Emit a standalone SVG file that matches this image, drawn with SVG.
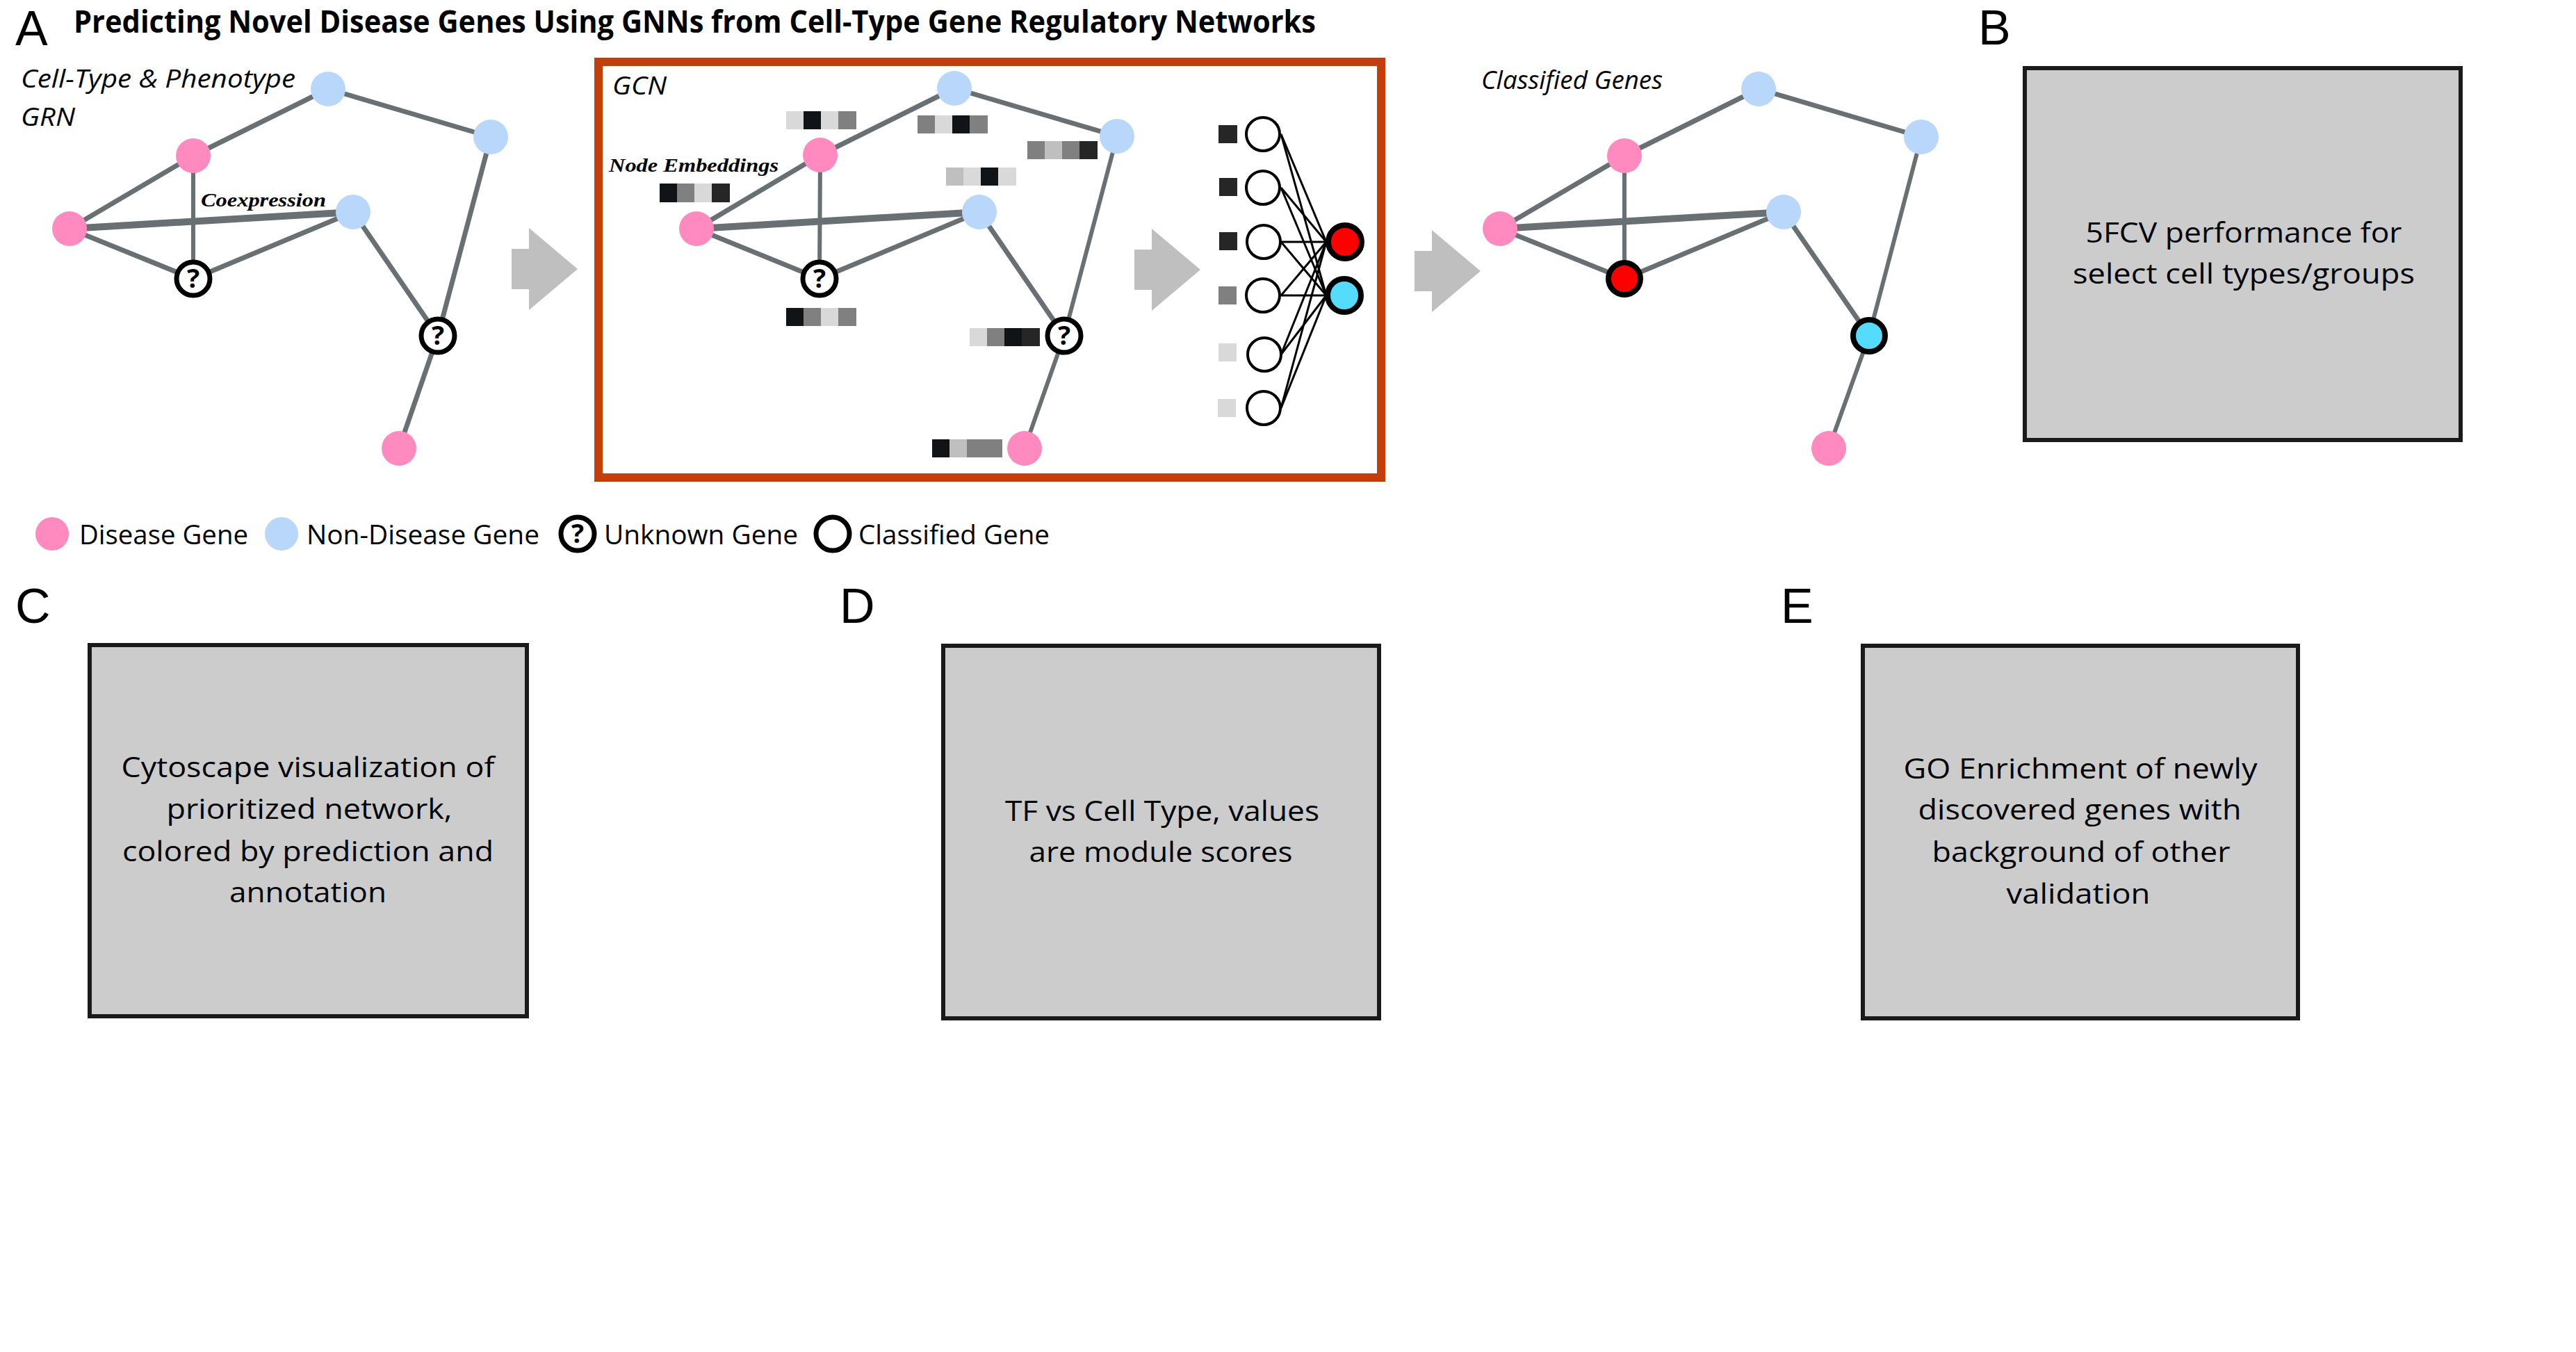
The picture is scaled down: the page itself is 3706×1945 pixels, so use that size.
<svg xmlns="http://www.w3.org/2000/svg" xmlns:xlink="http://www.w3.org/1999/xlink" width="3706" height="1945" viewBox="0 0 3706 1945">
<style>
.bg{fill:#ffffff}
.lbl{font-family:"Liberation Sans",Arial,sans-serif;font-size:70px;fill:#000}
.title{font-family:"Open Sans","Noto Sans",sans-serif;font-size:44px;font-weight:700;fill:#000}
.it{font-family:"Open Sans","Noto Sans",sans-serif;font-style:italic;font-size:36px;fill:#000}
.ser{font-family:"Liberation Serif","DejaVu Serif",serif;font-style:italic;font-weight:700;fill:#000}
.leg{font-family:"Open Sans","Noto Sans",sans-serif;font-size:39px;fill:#000}
.box{fill:#cccccc;stroke:#1a1a1a;stroke-width:6}
.bt{font-family:"Open Sans","Noto Sans",sans-serif;font-size:40px;fill:#000;text-anchor:middle}
.e{stroke:#687073;stroke-width:7;stroke-linecap:butt;fill:none}
.e.thick{stroke-width:10}
.e.thin{stroke-width:6}
.pink{fill:#ff8abf}
.blue{fill:#b8d7fb}
.unk{fill:#ffffff;stroke:#000;stroke-width:7}
.q{font-family:"Open Sans","Noto Sans",sans-serif;font-weight:700;font-size:38px;text-anchor:middle;fill:#000}
.arrow{fill:#bfbfbf}
.nn{stroke:#000;stroke-width:3}
.inp{fill:#fff;stroke:#000;stroke-width:4}
.out{stroke:#000;stroke-width:8}
.c0{fill:#111416}.c1{fill:#262626}.c2{fill:#808080}.c3{fill:#bfbfbf}.c4{fill:#d9d9d9}
</style>
<defs>
<path id="blockArrow" d="M0,0 H25 V-30 L95,29 L25,88 V58 H0 Z"/>
</defs>
<rect class="bg" x="0" y="0" width="3706" height="1945"/>

<!-- Panel labels and title -->
<text class="lbl" x="22" y="65">A</text>
<text class="title" x="106" y="47" textLength="1787" lengthAdjust="spacingAndGlyphs">Predicting Novel Disease Genes Using GNNs from Cell-Type Gene Regulatory Networks</text>
<text class="lbl" x="2846" y="64">B</text>
<text class="lbl" x="22" y="896">C</text>
<text class="lbl" x="1208" y="896">D</text>
<text class="lbl" x="2562" y="896">E</text>

<!-- Sub-captions -->
<text class="it" x="30" y="126" textLength="395" lengthAdjust="spacingAndGlyphs">Cell-Type &amp; Phenotype</text>
<text class="it" x="30" y="181" textLength="78" lengthAdjust="spacingAndGlyphs">GRN</text>
<text class="ser" x="289" y="297" font-size="28" textLength="180" lengthAdjust="spacingAndGlyphs">Coexpression</text>
<text class="it" x="2131" y="128" textLength="261" lengthAdjust="spacingAndGlyphs">Classified Genes</text>

<!-- GCN frame -->
<g id="gcn-frame">
<rect x="861" y="89" width="1126" height="598" fill="none" stroke="#c43e0b" stroke-width="12"/>
<text class="it" x="881" y="136" textLength="78" lengthAdjust="spacingAndGlyphs">GCN</text>
<text class="ser" x="876" y="247" font-size="28" textLength="244" lengthAdjust="spacingAndGlyphs">Node Embeddings</text>
</g>

<!-- Arrows -->
<g id="arrows">
<use xlink:href="#blockArrow" class="arrow" transform="translate(736,358)"/>
<use xlink:href="#blockArrow" class="arrow" transform="translate(1632,359)"/>
<use xlink:href="#blockArrow" class="arrow" transform="translate(2035,361)"/>
</g>

<!-- Connectors -->
<g id="connectors">
<!-- left GRN -->
<line class="e" x1="472" y1="128" x2="278" y2="224"/>
<line class="e" x1="472" y1="128" x2="706" y2="197"/>
<line class="e" x1="706" y1="197" x2="630" y2="483"/>
<line class="e" x1="278" y1="224" x2="100" y2="329"/>
<line class="e thin" x1="278" y1="224" x2="278" y2="401"/>
<line class="e thick" x1="100" y1="329" x2="508" y2="305"/>
<line class="e" x1="100" y1="329" x2="278" y2="401"/>
<line class="e" x1="508" y1="305" x2="278" y2="401"/>
<line class="e" x1="508" y1="305" x2="630" y2="483"/>
<line class="e" x1="630" y1="483" x2="574" y2="645"/>
<!-- GCN graph -->
<line class="e" x1="1373" y1="127" x2="1180" y2="223"/>
<line class="e" x1="1373" y1="127" x2="1607" y2="196"/>
<line class="e thin" x1="1607" y1="196" x2="1531" y2="483"/>
<line class="e" x1="1180" y1="223" x2="1002" y2="329"/>
<line class="e thin" x1="1180" y1="223" x2="1179" y2="401"/>
<line class="e thick" x1="1002" y1="329" x2="1409" y2="305"/>
<line class="e" x1="1002" y1="329" x2="1179" y2="401"/>
<line class="e" x1="1409" y1="305" x2="1179" y2="401"/>
<line class="e" x1="1409" y1="305" x2="1531" y2="483"/>
<line class="e thin" x1="1531" y1="483" x2="1474" y2="645"/>
<!-- Classified graph -->
<line class="e" x1="2530" y1="128" x2="2337" y2="224"/>
<line class="e" x1="2530" y1="128" x2="2764" y2="197"/>
<line class="e thin" x1="2764" y1="197" x2="2689" y2="483"/>
<line class="e" x1="2337" y1="224" x2="2158" y2="329"/>
<line class="e thin" x1="2337" y1="224" x2="2337" y2="401"/>
<line class="e thick" x1="2158" y1="329" x2="2566" y2="305"/>
<line class="e" x1="2158" y1="329" x2="2337" y2="401"/>
<line class="e" x1="2566" y1="305" x2="2337" y2="401"/>
<line class="e" x1="2566" y1="305" x2="2689" y2="483"/>
<line class="e thin" x1="2689" y1="483" x2="2631" y2="645"/>
<!-- NN connections -->
<g class="nn">
<line x1="1843" y1="193" x2="1908" y2="348"/><line x1="1843" y1="193" x2="1908" y2="425"/>
<line x1="1843" y1="270" x2="1908" y2="348"/><line x1="1843" y1="270" x2="1908" y2="425"/>
<line x1="1843" y1="348" x2="1908" y2="348"/><line x1="1843" y1="348" x2="1908" y2="425"/>
<line x1="1843" y1="425" x2="1908" y2="348"/><line x1="1843" y1="425" x2="1908" y2="425"/>
<line x1="1843" y1="510" x2="1908" y2="348"/><line x1="1843" y1="510" x2="1908" y2="425"/>
<line x1="1843" y1="587" x2="1908" y2="348"/><line x1="1843" y1="587" x2="1908" y2="425"/>
</g>
</g>

<!-- Left GRN nodes -->
<g id="grn-n1"><circle class="blue" cx="472" cy="128" r="25"/></g>
<g id="grn-n2"><circle class="blue" cx="706" cy="197" r="25"/></g>
<g id="grn-n3"><circle class="pink" cx="278" cy="224" r="25"/></g>
<g id="grn-n4"><circle class="pink" cx="100" cy="329" r="25"/></g>
<g id="grn-n5"><circle class="blue" cx="508" cy="305" r="25"/></g>
<g id="grn-n6"><circle class="unk" cx="278" cy="401" r="24"/><text class="q" x="278" y="414">?</text></g>
<g id="grn-n7"><circle class="unk" cx="630" cy="483" r="24"/><text class="q" x="630" y="496">?</text></g>
<g id="grn-n8"><circle class="pink" cx="574" cy="645" r="25"/></g>

<!-- GCN nodes -->
<g id="gcn-n1"><circle class="blue" cx="1373" cy="127" r="25"/></g>
<g id="gcn-n2"><circle class="blue" cx="1607" cy="196" r="25"/></g>
<g id="gcn-n3"><circle class="pink" cx="1180" cy="223" r="25"/></g>
<g id="gcn-n4"><circle class="pink" cx="1002" cy="329" r="25"/></g>
<g id="gcn-n5"><circle class="blue" cx="1409" cy="305" r="25"/></g>
<g id="gcn-n6"><circle class="unk" cx="1179" cy="401" r="24"/><text class="q" x="1179" y="414">?</text></g>
<g id="gcn-n7"><circle class="unk" cx="1531" cy="483" r="24"/><text class="q" x="1531" y="496">?</text></g>
<g id="gcn-n8"><circle class="pink" cx="1474" cy="645" r="25"/></g>

<!-- Embedding bars -->
<g id="embeddings">
<g transform="translate(1131,160)"><rect class="c4" x="0" y="0" width="26" height="26"/><rect class="c0" x="25" y="0" width="26" height="26"/><rect class="c4" x="50" y="0" width="26" height="26"/><rect class="c2" x="75" y="0" width="26" height="26"/></g>
<g transform="translate(1320,166)"><rect class="c2" x="0" y="0" width="26" height="26"/><rect class="c4" x="25" y="0" width="26" height="26"/><rect class="c0" x="50" y="0" width="26" height="26"/><rect class="c2" x="75" y="0" width="26" height="26"/></g>
<g transform="translate(1478,203)"><rect class="c2" x="0" y="0" width="26" height="26"/><rect class="c3" x="25" y="0" width="26" height="26"/><rect class="c2" x="50" y="0" width="26" height="26"/><rect class="c1" x="75" y="0" width="26" height="26"/></g>
<g transform="translate(1361,241)"><rect class="c3" x="0" y="0" width="26" height="26"/><rect class="c4" x="25" y="0" width="26" height="26"/><rect class="c0" x="50" y="0" width="26" height="26"/><rect class="c4" x="75" y="0" width="26" height="26"/></g>
<g transform="translate(949,264)"><rect class="c0" x="0" y="0" width="26" height="27"/><rect class="c2" x="25" y="0" width="26" height="27"/><rect class="c4" x="50" y="0" width="26" height="27"/><rect class="c1" x="75" y="0" width="26" height="27"/></g>
<g transform="translate(1131,443)"><rect class="c0" x="0" y="0" width="26" height="26"/><rect class="c2" x="25" y="0" width="26" height="26"/><rect class="c4" x="50" y="0" width="26" height="26"/><rect class="c2" x="75" y="0" width="26" height="26"/></g>
<g transform="translate(1395,472)"><rect class="c4" x="0" y="0" width="26" height="26"/><rect class="c2" x="25" y="0" width="26" height="26"/><rect class="c0" x="50" y="0" width="26" height="26"/><rect class="c1" x="75" y="0" width="26" height="26"/></g>
<g transform="translate(1341,632)"><rect class="c0" x="0" y="0" width="26" height="26"/><rect class="c3" x="25" y="0" width="26" height="26"/><rect class="c2" x="50" y="0" width="26" height="26"/><rect class="c2" x="75" y="0" width="26" height="26"/></g>
</g>

<!-- NN nodes -->
<g id="nn-in1"><rect class="c1" x="1753" y="180" width="27" height="26"/><circle class="inp" cx="1817" cy="193" r="24"/></g>
<g id="nn-in2"><rect class="c1" x="1754" y="256" width="26" height="26"/><circle class="inp" cx="1817" cy="270" r="24"/></g>
<g id="nn-in3"><rect class="c1" x="1754" y="334" width="26" height="26"/><circle class="inp" cx="1818" cy="348" r="24"/></g>
<g id="nn-in4"><rect class="c2" x="1753" y="412" width="26" height="26"/><circle class="inp" cx="1817" cy="425" r="24"/></g>
<g id="nn-in5"><rect class="c4" x="1753" y="494" width="26" height="26"/><circle class="inp" cx="1819" cy="510" r="24"/></g>
<g id="nn-in6"><rect class="c4" x="1752" y="574" width="26" height="26"/><circle class="inp" cx="1818" cy="587" r="24"/></g>
<g id="nn-out1"><circle class="out" cx="1935" cy="348" r="24" fill="#ff0000"/></g>
<g id="nn-out2"><circle class="out" cx="1934" cy="425" r="24" fill="#55dcfc"/></g>

<!-- Classified nodes -->
<g id="cls-n1"><circle class="blue" cx="2530" cy="128" r="25"/></g>
<g id="cls-n2"><circle class="blue" cx="2764" cy="197" r="25"/></g>
<g id="cls-n3"><circle class="pink" cx="2337" cy="224" r="25"/></g>
<g id="cls-n4"><circle class="pink" cx="2158" cy="329" r="25"/></g>
<g id="cls-n5"><circle class="blue" cx="2566" cy="305" r="25"/></g>
<g id="cls-n6"><circle class="out" cx="2337" cy="401" r="23" fill="#ff0000"/></g>
<g id="cls-n7"><circle class="out" cx="2689" cy="483" r="23" fill="#55dcfc"/></g>
<g id="cls-n8"><circle class="pink" cx="2631" cy="645" r="25"/></g>

<!-- Legend -->
<g id="legend-disease"><circle class="pink" cx="75" cy="768" r="24"/><text class="leg" x="114" y="783" textLength="243" lengthAdjust="spacingAndGlyphs">Disease Gene</text></g>
<g id="legend-nondisease"><circle class="blue" cx="405" cy="768" r="24"/><text class="leg" x="441" y="783" textLength="335" lengthAdjust="spacingAndGlyphs">Non-Disease Gene</text></g>
<g id="legend-unknown"><circle class="unk" cx="831" cy="768" r="24"/><text class="q" x="831" y="781">?</text><text class="leg" x="869" y="783" textLength="279" lengthAdjust="spacingAndGlyphs">Unknown Gene</text></g>
<g id="legend-classified"><circle class="unk" cx="1198" cy="768" r="24"/><text class="leg" x="1235" y="783" textLength="275" lengthAdjust="spacingAndGlyphs">Classified Gene</text></g>

<!-- Placeholder boxes -->
<g id="box-B">
<rect class="box" x="2913" y="98" width="627" height="535"/>
<text class="bt" x="3228" y="349" textLength="455" lengthAdjust="spacingAndGlyphs">5FCV performance for</text>
<text class="bt" x="3228" y="408" textLength="492" lengthAdjust="spacingAndGlyphs">select cell types/groups</text>
</g>
<g id="box-C">
<rect class="box" x="129" y="928" width="629" height="534"/>
<text class="bt" x="443" y="1118" textLength="537" lengthAdjust="spacingAndGlyphs">Cytoscape visualization of</text>
<text class="bt" x="445" y="1178" textLength="411" lengthAdjust="spacingAndGlyphs">prioritized network,</text>
<text class="bt" x="443" y="1239" textLength="534" lengthAdjust="spacingAndGlyphs">colored by prediction and</text>
<text class="bt" x="443" y="1298" textLength="226" lengthAdjust="spacingAndGlyphs">annotation</text>
</g>
<g id="box-D">
<rect class="box" x="1357" y="929" width="627" height="536"/>
<text class="bt" x="1672" y="1181" textLength="452" lengthAdjust="spacingAndGlyphs">TF vs Cell Type, values</text>
<text class="bt" x="1670" y="1240" textLength="379" lengthAdjust="spacingAndGlyphs">are module scores</text>
</g>
<g id="box-E">
<rect class="box" x="2680" y="929" width="626" height="536"/>
<text class="bt" x="2993" y="1120" textLength="509" lengthAdjust="spacingAndGlyphs">GO Enrichment of newly</text>
<text class="bt" x="2992" y="1179" textLength="465" lengthAdjust="spacingAndGlyphs">discovered genes with</text>
<text class="bt" x="2994" y="1240" textLength="429" lengthAdjust="spacingAndGlyphs">background of other</text>
<text class="bt" x="2990" y="1300" textLength="207" lengthAdjust="spacingAndGlyphs">validation</text>
</g>
</svg>
